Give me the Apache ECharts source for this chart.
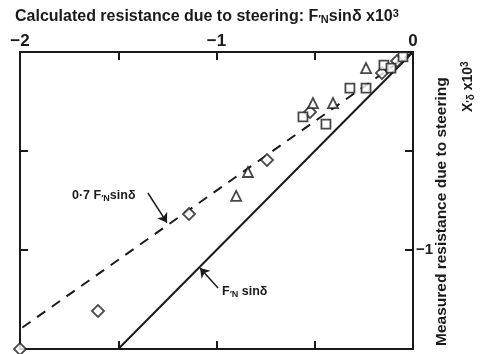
<!DOCTYPE html>
<html>
<head>
<meta charset="utf-8">
<script src="https://cdn.jsdelivr.net/npm/echarts@6/dist/echarts.min.js"></script>
<style>
  html, body { margin: 0; padding: 0; background: #fff; }
  #chart { width: 480px; height: 354px; }
</style>
</head>
<body>
<div id="chart"></div>
<script>
// calculated (x) vs measured (y) resistance, both x10^3
const diamondPts = [[-2.0, -1.5], [-1.603, -1.308], [-1.14, -0.818], [-0.743, -0.545],
  [-0.524, -0.303], [-0.158, -0.106], [-0.081, -0.045]];
const trianglePts = [[-0.90, -0.727], [-0.84, -0.606], [-0.509, -0.258],
  [-0.407, -0.258], [-0.239, -0.081]];
const squarePts = [[-0.56, -0.328], [-0.443, -0.364], [-0.321, -0.182], [-0.239, -0.182],
  [-0.148, -0.066], [-0.112, -0.081], [-0.051, -0.025]];
const fullLine = [[0, 0], [-1.5, -1.5]];       // F'N sin d
const reducedLine = [[0, 0], [-2, -1.4]];      // 0.7 F'N sin d
const xTickLabels = [-2, -1, 0];
const yTickLabels = [-1];

const chart = echarts.init(document.getElementById('chart'));
const ink = '#1a1a1a';
const font = 'Liberation Sans';

const axisBase = {
  type: 'value',
  axisLine: { show: true, onZero: false, lineStyle: { color: ink, width: 2 } },
  axisTick: { show: true, inside: true, length: 8, lineStyle: { color: ink, width: 2 } },
  splitLine: { show: false },
};

const markerStyle = { color: '#fff', borderColor: ink, borderWidth: 1.8 };
const minus = (v) => String(v).replace('-', '\u2212');
const small = (size, pad) => ({ fontSize: size, fontWeight: 'bold', fill: ink, fontFamily: font, padding: pad });

chart.setOption({
  animation: false,
  backgroundColor: '#fff',
  grid: { left: 20, right: 67, top: 52, bottom: 5 },
  xAxis: [
    Object.assign({}, axisBase, {
      position: 'top', min: -2, max: 0, interval: 0.5,
      axisLabel: {
        color: ink, fontSize: 17, fontFamily: font, fontWeight: 'bold', margin: 2,
        formatter: (v) => xTickLabels.includes(v) ? minus(v) : '',
      },
    }),
    Object.assign({}, axisBase, {
      position: 'bottom', min: -2, max: 0, interval: 0.5,
      axisLabel: { show: false },
    }),
  ],
  yAxis: [
    Object.assign({}, axisBase, {
      position: 'right', min: -1.5, max: 0, interval: 0.5,
      axisLabel: {
        color: ink, fontSize: 15, fontFamily: font, fontWeight: 'bold', margin: 3,
        formatter: (v) => yTickLabels.includes(v) ? minus(v) : '',
      },
    }),
    Object.assign({}, axisBase, {
      position: 'left', min: -1.5, max: 0, interval: 0.5,
      axisLabel: { show: false },
    }),
  ],
  series: [
    {
      type: 'line', data: fullLine, symbol: 'none',
      lineStyle: { color: ink, width: 2 }, z: 2,
      markLine: {
        silent: true, symbol: ['none', 'arrow'], symbolSize: 9,
        lineStyle: { color: ink, width: 1.5, type: 'solid' }, label: { show: false },
        data: [[{ coord: [-0.992, -1.192] }, { coord: [-1.084, -1.091] }]],
      },
    },
    {
      type: 'line', data: reducedLine, symbol: 'none',
      lineStyle: { color: ink, width: 2, type: [10, 8] }, z: 2,
      markLine: {
        silent: true, symbol: ['none', 'arrow'], symbolSize: 9,
        lineStyle: { color: ink, width: 1.5, type: 'solid' }, label: { show: false },
        data: [[{ coord: [-1.349, -0.712] }, { coord: [-1.252, -0.862] }]],
      },
    },
    {
      type: 'scatter', data: diamondPts, symbol: 'rect', symbolSize: 8.5, symbolRotate: 45,
      itemStyle: markerStyle, z: 5,
    },
    {
      type: 'scatter', data: trianglePts, symbol: 'triangle', symbolSize: 10,
      itemStyle: markerStyle, z: 5,
    },
    {
      type: 'scatter', data: squarePts, symbol: 'rect', symbolSize: 9,
      itemStyle: markerStyle, z: 5,
    },
  ],
  graphic: [
    {
      type: 'text', left: 15, top: 8,
      style: {
        text: 'Calculated resistance due to steering: F{sub|\u2032N}sin\u03b4 x10{sup|3}',
        fill: ink, font: 'bold 16px "' + font + '"',
        rich: {
          sub: Object.assign(small(11, [6, 0, 0, 0]), { verticalAlign: 'bottom' }),
          sup: Object.assign(small(11, [0, 0, 6, 0]), { verticalAlign: 'top' }),
        },
      },
    },
    {
      type: 'text', x: 72, y: 188,
      style: {
        text: '0\u00b77 F{sub|\u2032N}sin\u03b4',
        fill: ink, font: 'bold 12.5px "' + font + '"',
        rich: { sub: small(9, [6, 0, 0, 0]) },
      },
    },
    {
      type: 'text', x: 222, y: 284,
      style: {
        text: 'F{sub|\u2032N} sin\u03b4',
        fill: ink, font: 'bold 12.5px "' + font + '"',
        rich: { sub: small(9, [6, 0, 0, 0]) },
      },
    },
    {
      type: 'text', x: 434, y: 346, rotation: Math.PI / 2,
      style: { text: 'Measured resistance due to steering', fill: ink, font: 'bold 15.5px "' + font + '"' },
    },
    {
      type: 'text', x: 460, y: 112, rotation: Math.PI / 2,
      style: {
        text: 'X{sub|\u2032\u03b4} x10{sup|3}',
        fill: ink, font: 'bold 14px "' + font + '"',
        rich: {
          sub: small(10, [6, 0, 0, 0]),
          sup: small(10, [0, 0, 6, 0]),
        },
      },
    },
  ],
});
</script>
</body>
</html>
